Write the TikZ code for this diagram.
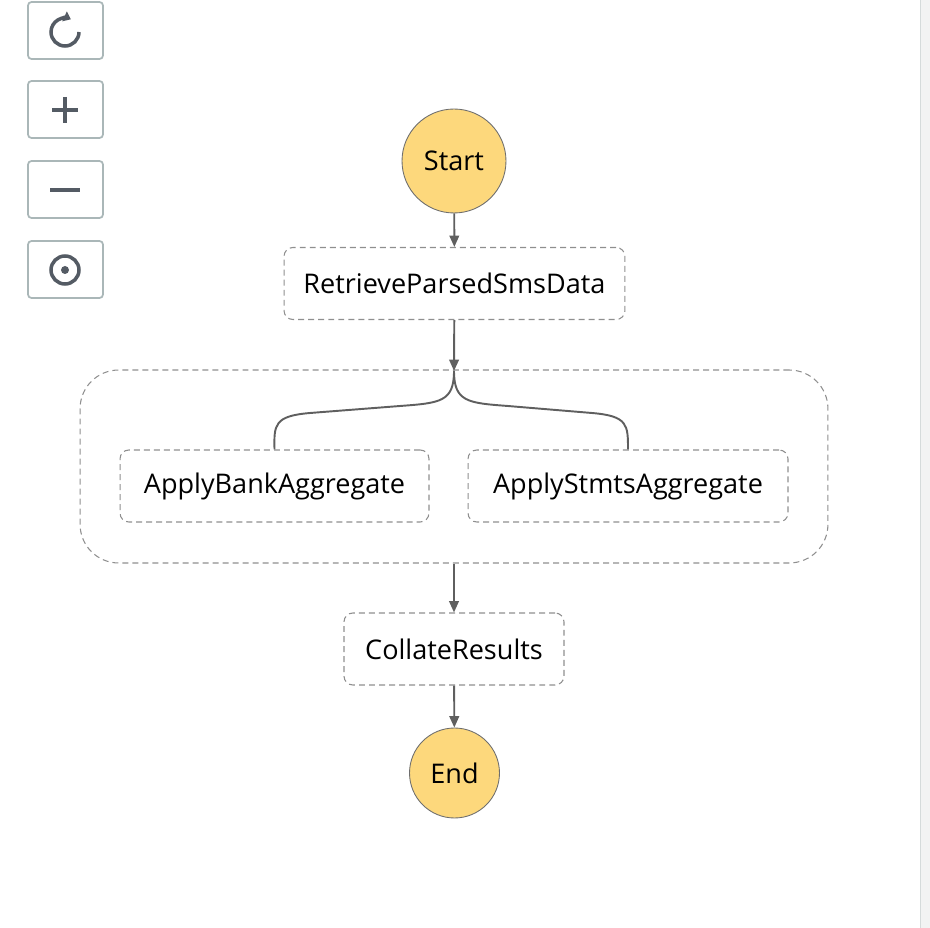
\documentclass[tikz,border=0pt]{standalone}
\usepackage{fontspec}
\setmainfont{Open Sans}
\usepackage{tikz}
\usetikzlibrary{shapes.geometric, arrows.meta, positioning, calc}
\definecolor{startyellow}{HTML}{FDD87C}
\definecolor{circlegray}{HTML}{6E6E6E}
\definecolor{dashgray}{HTML}{8F8F8F}
\definecolor{arrowgray}{HTML}{5F5F5F}
\definecolor{btnborder}{HTML}{AAB7B8}
\definecolor{iconslate}{HTML}{545B64}
\definecolor{panelgray}{HTML}{F2F3F3}
\definecolor{panelline}{HTML}{D5DBDB}

\begin{document}
\begin{tikzpicture}[x=0.02cm, y=-0.02cm, font=\fontsize{15.4}{18}\selectfont, >={Triangle[length=6.5pt, width=5.5pt]}]
    \tikzstyle{endpoint} = [circle, draw=circlegray, line width=0.5pt, fill=startyellow, inner sep=0pt]
    \tikzstyle{task} = [rectangle, rounded corners=5pt, draw=dashgray, line width=0.6pt,
      dash pattern=on 3.4pt off 2.3pt, minimum height=1.44cm, inner sep=0pt, fill=white]
    \tikzstyle{flow} = [draw=arrowgray, line width=1.1pt]
    \tikzstyle{button} = [draw=btnborder, line width=1pt, rounded corners=2pt]
    \tikzstyle{icon} = [draw=iconslate, line width=2pt]

    \useasboundingbox (0,0) rectangle (930,928);

    % side panel on the right
    \fill[panelgray] (920,0) rectangle (930,928);
    \draw[panelline, line width=0.8pt] (920.5,0) -- (920.5,928);

    % zoom controls
    \foreach \ytop in {2, 81, 161, 241}
      \draw[button] (28,\ytop) rectangle (103,\ytop+57);
    \draw[icon, -{Triangle[length=4pt, width=6pt]}] (79,32) arc (0:295:14);
    \draw[icon] (52,110) -- (78,110) (65,97) -- (65,123);
    \draw[icon] (50,190) -- (80,190);
    \draw[icon] (65,270) circle (14);
    \fill[iconslate] (65,270) circle (4);

    % states
    \node (start)    [endpoint, minimum size=2.08cm] at (454,161) {Start};
    \node (retrieve) [task, minimum width=6.82cm] at (454.5,283.5) {RetrieveParsedSmsData};
    \node (parallel) [task, rounded corners=22pt, minimum width=14.96cm, minimum height=3.86cm,
      fill=none] at (454,466.5) {};
    \node (bank)     [task, minimum width=6.18cm] at (274.5,486) {ApplyBankAggregate};
    \node (stmts)    [task, minimum width=6.4cm] at (628,486) {ApplyStmtsAggregate};
    \node (collate)  [task, minimum width=4.4cm] at (454,649) {CollateResults};
    \node (end)      [endpoint, minimum size=1.8cm] at (454.5,773) {End};
    \coordinate (fork) at (454,371);

    % Start -> RetrieveParsedSmsData
    \draw[flow, ->] (start) -- (retrieve);

    % RetrieveParsedSmsData -> parallel state
    \draw[flow, ->] (retrieve) -- (fork);

    % branches
    \draw[flow] (fork) .. controls (454,402) and (440,403) .. (400,406)
      -- (310,413) .. controls (274,416) and (274,425) .. (bank.north);
    \draw[flow] (fork) .. controls (454,402) and (468,403) .. (508,406)
      -- (592,413) .. controls (628,416) and (628,425) .. (stmts.north);

    % parallel state -> CollateResults -> End
    \draw[flow, ->] (parallel) -- (collate);
    \draw[flow, ->] (collate) -- (end);
\end{tikzpicture}
\end{document}
